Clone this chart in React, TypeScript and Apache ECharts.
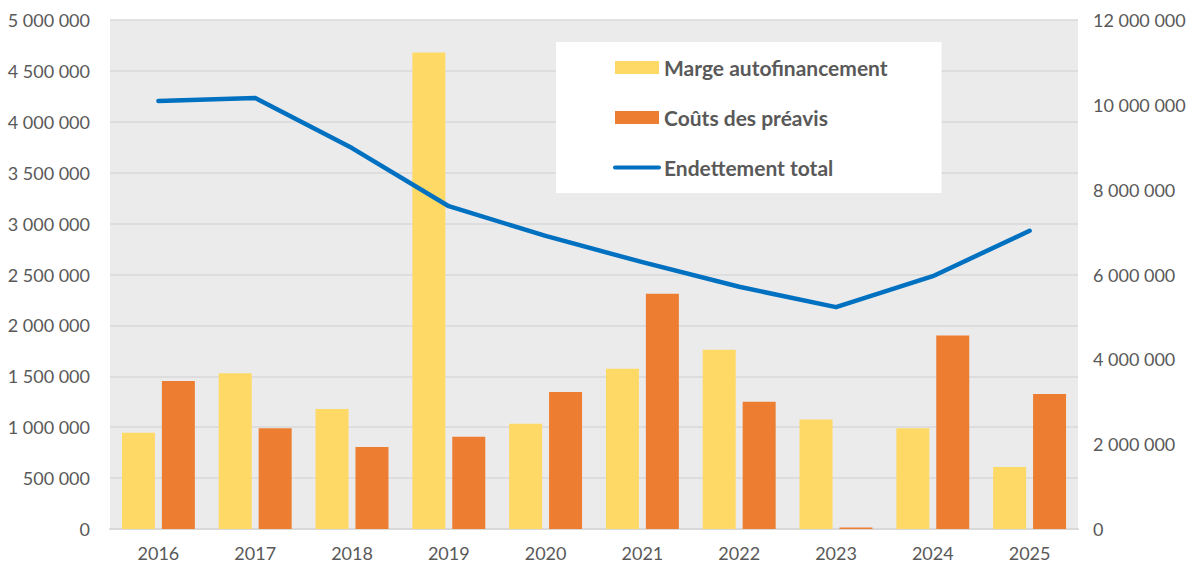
import React, { useEffect, useRef } from "react";
import * as echarts from "echarts";

const years = ["2016", "2017", "2018", "2019", "2020", "2021", "2022", "2023", "2024", "2025"];
const margeAutofinancement = [945000, 1530000, 1180000, 4680000, 1035000, 1575000, 1760000, 1075000, 990000, 610000];
const coutsPreavis = [1455000, 990000, 805000, 905000, 1345000, 2310000, 1250000, 15000, 1900000, 1325000];
const endettementTotal = [10090000, 10160000, 8980000, 7610000, 6910000, 6290000, 5710000, 5230000, 5960000, 7030000];

const fmt = (v: number) => String(v).replace(/\B(?=(\d{3})+(?!\d))/g, " ");

const FONT = "Lato";
const TXT = "#595959";

export default function App() {
  const ref = useRef<HTMLDivElement>(null);
  useEffect(() => {
    if (!ref.current) return;
    const chart = echarts.init(ref.current, undefined, { renderer: "svg" });
    chart.setOption({
      animation: false,
      backgroundColor: "#ffffff",
      textStyle: { fontFamily: FONT },
      grid: { left: 110, right: 114, top: 20, bottom: 37, show: true, backgroundColor: "#EBEBEB", borderWidth: 0 },
      legend: {
        orient: "vertical",
        left: 556,
        top: 42,
        backgroundColor: "#ffffff",
        padding: [15, 54, 15, 57],
        itemGap: 29,
        itemWidth: 44,
        itemHeight: 13,
        textStyle: { fontFamily: FONT, fontSize: 21, fontWeight: "bold", color: TXT },
        data: [
          { name: "Marge autofinancement", icon: "rect" },
          { name: "Coûts des préavis", icon: "rect" },
          { name: "Endettement total", itemStyle: { opacity: 0 }, lineStyle: { width: 4, cap: "round", color: "#0070C0" } },
        ],
      },
      xAxis: {
        type: "category",
        data: years,
        axisLine: { lineStyle: { color: "#D9D9D9", width: 2 } },
        axisTick: { show: false },
        axisLabel: { color: TXT, fontSize: 18, fontFamily: FONT, margin: 15 },
      },
      yAxis: [
        {
          type: "value",
          min: 0,
          max: 5000000,
          interval: 500000,
          axisLine: { show: false },
          axisTick: { show: false },
          axisLabel: { color: TXT, fontSize: 18, fontFamily: FONT, margin: 20, formatter: fmt },
          splitLine: { lineStyle: { color: "#D9D9D9", width: 1.5 } },
        },
        {
          type: "value",
          min: 0,
          max: 12000000,
          interval: 2000000,
          axisLine: { show: false },
          axisTick: { show: false },
          axisLabel: { color: TXT, fontSize: 18, fontFamily: FONT, margin: 15, formatter: fmt },
          splitLine: { show: false },
        },
      ],
      series: [
        {
          name: "Marge autofinancement",
          type: "bar",
          data: margeAutofinancement,
          barWidth: 33,
          barGap: "21%",
          itemStyle: { color: "#FFD966" },
        },
        {
          name: "Coûts des préavis",
          type: "bar",
          data: coutsPreavis,
          barWidth: 33,
          barGap: "21%",
          itemStyle: { color: "#ED7D31" },
        },
        {
          name: "Endettement total",
          type: "line",
          yAxisIndex: 1,
          data: endettementTotal,
          symbol: "none",
          lineStyle: { color: "#0070C0", width: 4.5, cap: "round", join: "round" },
          itemStyle: { color: "#0070C0" },
        },
      ],
    });
    return () => chart.dispose();
  }, []);
  return <div ref={ref} style={{ position: "fixed", left: 0, top: 0, width: 1192, height: 566 }} />;
}
